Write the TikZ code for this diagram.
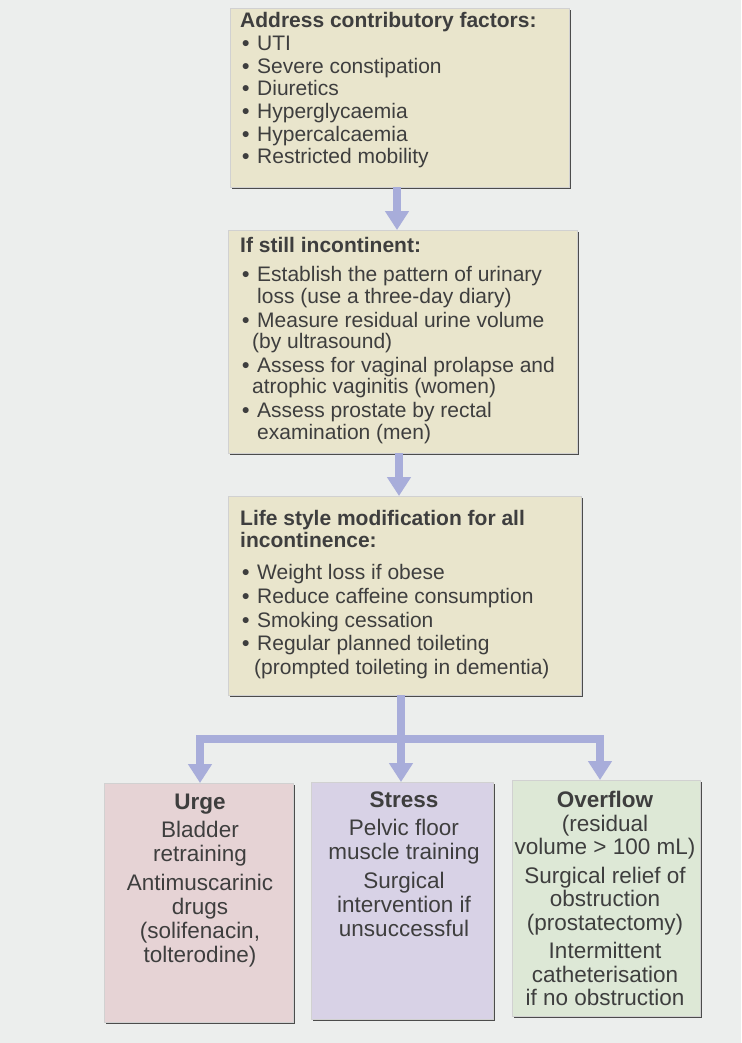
\documentclass[tikz,border=0pt]{standalone}
\usepackage{fontspec}
\setmainfont{Liberation Sans}
\usetikzlibrary{arrows.meta,shadows}
\definecolor{bgc}{RGB}{236,238,237}
\definecolor{beige}{RGB}{233,229,204}
\definecolor{pinkc}{RGB}{230,211,213}
\definecolor{lavc}{RGB}{216,210,230}
\definecolor{greenc}{RGB}{221,232,214}
\definecolor{arrc}{RGB}{168,173,218}
\definecolor{txtc}{RGB}{62,62,62}
\newcommand\bu{\hspace*{2pt}\makebox[15pt][l]{\textbf{\textbullet}}}
\newcommand\cn[1][17pt]{\hspace*{#1}}
\begin{document}
\begin{tikzpicture}[x=1pt,y=-1pt,
  boxbase/.style={rectangle, inner sep=0pt, outer sep=0pt, anchor=north west,
    draw=black!18, line width=0.6pt,
    drop shadow={shadow xshift=1.8pt, shadow yshift=-1.8pt, fill=black!70, opacity=1}},
  beigebox/.style={boxbase, fill=beige},
  pinkbox/.style={boxbase, fill=pinkc},
  lavbox/.style={boxbase, fill=lavc},
  greenbox/.style={boxbase, fill=greenc},
  listtxt/.style={anchor=north west, inner sep=0pt, align=left, text=txtc},
  ctrtxt/.style={anchor=north, inner sep=0pt, align=center, text=txtc,
    font=\fontsize{22.5}{24}\selectfont},
  arr/.style={draw=arrc, line width=8pt},
  arrhead/.style={arr, -{Triangle[width=23pt,length=19pt]}}
]
\fill[bgc] (0,0) rectangle (741,1043);
\useasboundingbox (0,0) rectangle (741,1043);

% boxes
\node[beigebox, minimum width=339pt, minimum height=179pt] (b1) at (230,8) {};
\node[beigebox, minimum width=349pt, minimum height=223pt] (b2) at (228,230) {};
\node[beigebox, minimum width=353pt, minimum height=199pt] (b3) at (228,496) {};
\node[pinkbox, minimum width=189pt, minimum height=239pt] (urge) at (104,783) {};
\node[lavbox, minimum width=182pt, minimum height=237pt] (stress) at (311,782) {};
\node[greenbox, minimum width=188pt, minimum height=236pt] (over) at (512,780) {};

% texts
\node[listtxt, font=\fontsize{21}{22.7}\selectfont] (t1) at (240,12.2) {%
\textbf{Address contributory factors:}\\
\bu UTI\\
\bu Severe constipation\\
\bu Diuretics\\
\bu Hyperglycaemia\\
\bu Hypercalcaemia\\
\bu Restricted mobility};

\node[listtxt, font=\fontsize{21}{21.5}\selectfont] (t2) at (240,236.7) {%
\textbf{If still incontinent:}\\[8pt]
\bu Establish the pattern of urinary\\
\cn loss (use a three-day diary)\\[2.5pt]
\bu Measure residual urine volume\\
\cn[12pt](by ultrasound)\\[2pt]
\bu Assess for vaginal prolapse and\\
\cn[12pt]atrophic vaginitis (women)\\[2.5pt]
\bu Assess prostate by rectal\\
\cn examination (men)};

\node[listtxt, font=\fontsize{21}{23.8}\selectfont] (t3) at (240,509.7) {%
\textbf{Life style modification for all}\\[-1.8pt]
\textbf{incontinence:}\\[8.5pt]
\bu Weight loss if obese\\
\bu Reduce caffeine consumption\\
\bu Smoking cessation\\
\bu Regular planned toileting\\
\cn[14pt](prompted toileting in dementia)};

\node[ctrtxt] (tu) at (200,794) {%
\textbf{Urge}\\[4pt]
Bladder\\
retraining\\[4.5pt]
Antimuscarinic\\
drugs\\
(solifenacin,\\
tolterodine)};

\node[ctrtxt] (ts) at (404,792) {%
\textbf{Stress}\\[4pt]
Pelvic floor\\
muscle training\\[4.5pt]
Surgical\\
intervention if\\
unsuccessful};

\node[ctrtxt, font=\fontsize{22.5}{23.5}\selectfont] (to) at (605,791) {%
\textbf{Overflow}\\
(residual\\
volume > 100 mL)\\[5pt]
Surgical relief of\\
obstruction\\
(prostatectomy)\\[5pt]
Intermittent\\
catheterisation\\
if no obstruction};

% connectors
\coordinate (jm) at (401,739);
\coordinate (jl) at (200,739);
\coordinate (jr) at (600,739);
\draw[arrhead] (b1.south -| 397,0) -- (397,0 |- b2.north);
\draw[arrhead] (b2.south -| 399,0) -- (399,0 |- b3.north);
\draw[arr, line cap=rect] (jl) -- (jr);
\draw[arrhead] (b3.south -| jm) -- (jm |- stress.north);
\draw[arrhead] (jl) -- (jl |- urge.north);
\draw[arrhead] (jr) -- (jr |- over.north);
\end{tikzpicture}
\end{document}
